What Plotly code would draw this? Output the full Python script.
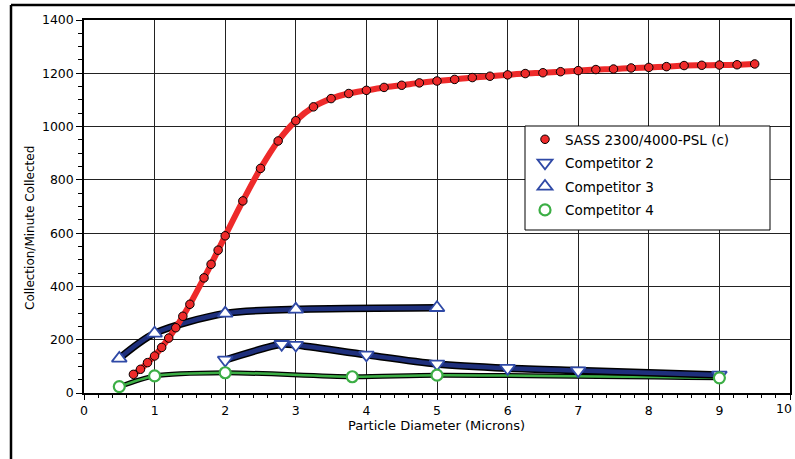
import plotly.graph_objects as go

# ---- data ----
sass_x = [0.7, 0.8, 0.9, 1.0, 1.1, 1.2, 1.3, 1.4, 1.5, 1.7, 1.8, 1.9, 2.0,
          2.25, 2.5, 2.75, 3.0, 3.25, 3.5, 3.75, 4.0, 4.25, 4.5, 4.75, 5.0,
          5.25, 5.5, 5.75, 6.0, 6.25, 6.5, 6.75, 7.0, 7.25, 7.5, 7.75, 8.0,
          8.25, 8.5, 8.75, 9.0, 9.25, 9.5]
sass_y = [70, 89, 114, 139, 171, 206, 245, 288, 333, 432, 483, 536, 590,
          721, 843, 946, 1022, 1074, 1105, 1124, 1136, 1147, 1155, 1164, 1171,
          1177, 1184, 1189, 1194, 1199, 1202, 1206, 1210, 1214, 1216, 1220, 1222,
          1225, 1229, 1230, 1231, 1232, 1235]

comp2_x = [2.0, 2.8, 3.0, 4.0, 5.0, 6.0, 7.0, 9.0]
comp2_y = [124, 183, 180, 143, 109, 93, 84, 68]

comp3_x = [0.5, 1.0, 2.0, 3.0, 5.0]
comp3_y = [130, 224, 299, 314, 320]

comp4_x = [0.5, 1.0, 2.0, 3.8, 5.0, 9.0]
comp4_y = [24, 64, 76, 61, 67, 57]

x_ticks = [0, 1, 2, 3, 4, 5, 6, 7, 8, 9]
x_last_tick = 10

names = ["SASS 2300/4000-PSL (c)", "Competitor 2", "Competitor 3", "Competitor 4"]
x_title = "Particle Diameter (Microns)"
y_title = "Collection/Minute Collected"

RED = "#ee2a2a"
NAVY = "#1e2f7c"
BLUE = "#2f49a6"
GREEN = "#3cae45"
FONT = "DejaVu Sans, Liberation Sans, Arial, sans-serif"

fig = go.Figure()

def outlined_line(x, y, color, w_in, w_out):
    fig.add_trace(go.Scatter(x=x, y=y, mode="lines", showlegend=False, hoverinfo="skip",
                             line=dict(color="black", width=w_out, shape="spline", smoothing=0.8)))
    fig.add_trace(go.Scatter(x=x, y=y, mode="lines", showlegend=False, hoverinfo="skip",
                             line=dict(color=color, width=w_in, shape="spline", smoothing=0.8)))

outlined_line(comp4_x, comp4_y, GREEN, 2.5, 5)
outlined_line(comp2_x, comp2_y, NAVY, 4.5, 7.5)
outlined_line(comp3_x, comp3_y, NAVY, 4.5, 7.5)

fig.add_trace(go.Scatter(x=sass_x, y=sass_y, mode="lines", showlegend=False, hoverinfo="skip",
                         line=dict(color=RED, width=6, shape="spline", smoothing=0.8)))

# markers (legend entries)
fig.add_trace(go.Scatter(x=sass_x, y=sass_y, mode="markers", name=names[0], legendgroup="a",
                         marker=dict(symbol="circle", size=8.5, color=RED,
                                     line=dict(color="black", width=1))))
fig.add_trace(go.Scatter(x=comp2_x, y=comp2_y, mode="markers", name=names[1], legendgroup="b",
                         marker=dict(symbol="triangle-down", size=13, color="white",
                                     line=dict(color=BLUE, width=1.8))))
fig.add_trace(go.Scatter(x=comp3_x, y=comp3_y, mode="markers", name=names[2], legendgroup="c",
                         marker=dict(symbol="triangle-up", size=13, color="white",
                                     line=dict(color=BLUE, width=1.8))))
fig.add_trace(go.Scatter(x=comp4_x, y=comp4_y, mode="markers", name=names[3], legendgroup="d",
                         marker=dict(symbol="circle", size=11, color="white",
                                     line=dict(color=GREEN, width=2.2))))

W, H = 795, 459
L, R, T, B = 84, 5, 20, 66
pw, ph = W - L - R, H - T - B

def px_x(p):
    return (p - L) / pw

def px_y(p):
    return (H - B - p) / ph

fig.update_layout(
    width=W, height=H,
    margin=dict(l=L, r=R, t=T, b=B, autoexpand=False),
    paper_bgcolor="white", plot_bgcolor="white",
    font=dict(family=FONT, color="black", size=12.5),
    showlegend=True,
    legend=dict(x=px_x(525), y=px_y(124), xanchor="left", yanchor="top",
                bgcolor="rgba(0,0,0,0)", borderwidth=0,
                font=dict(size=13.5, family=FONT), tracegroupgap=3, traceorder="grouped"),
    xaxis=dict(range=[0, 10], tickmode="array", tickvals=x_ticks + [x_last_tick],
               ticktext=[str(v) for v in x_ticks] + [""],
               showgrid=True, gridcolor="#222", gridwidth=1,
               showline=True, linecolor="black", linewidth=1.5, mirror=True,
               ticks="outside", ticklen=5, tickwidth=1.2, tickcolor="black",
               minor=dict(dtick=0.2, tick0=0, ticks="outside", ticklen=3, tickcolor="black", showgrid=False),
               zeroline=False, tickfont=dict(size=12.5, family=FONT), automargin=False),
    yaxis=dict(range=[0, 1400], dtick=200, tick0=0, showgrid=True, gridcolor="#222", gridwidth=1,
               showline=True, linecolor="black", linewidth=1.5, mirror=True,
               ticks="outside", ticklen=6, tickwidth=1.2, tickcolor="black",
               minor=dict(dtick=50, ticks="outside", ticklen=4, tickcolor="black", showgrid=False),
               zeroline=False, tickfont=dict(size=12.5, family=FONT), automargin=False),
    shapes=[
        dict(type="rect", xref="paper", yref="paper", x0=px_x(525), x1=px_x(770),
             y0=px_y(230), y1=px_y(126), fillcolor="white", line=dict(color="black", width=1),
             layer="above"),
        dict(type="line", xref="paper", yref="paper", x0=px_x(11), x1=px_x(11),
             y0=px_y(470), y1=px_y(5), line=dict(color="black", width=2.5)),
        dict(type="line", xref="paper", yref="paper", x0=px_x(11), x1=px_x(800),
             y0=px_y(5), y1=px_y(5), line=dict(color="black", width=2.5)),
    ],
    annotations=[
        dict(text=str(x_last_tick), xref="x", yref="paper", x=x_last_tick, y=px_y(408),
             xshift=4, showarrow=False, font=dict(size=12.5, family=FONT),
             xanchor="right", yanchor="middle"),
        dict(text=x_title, xref="paper", yref="paper", x=px_x(436), y=px_y(425.5),
             showarrow=False, font=dict(size=13, family=FONT), xanchor="center", yanchor="middle"),
        dict(text=y_title, xref="paper", yref="paper", x=px_x(30), y=px_y(228),
             showarrow=False, font=dict(size=12, family=FONT), textangle=-90,
             xanchor="center", yanchor="middle"),
    ],
)

fig.write_html("out.html", config={"displayModeBar": False},
               post_script="document.body.style.margin='0';document.body.style.overflow='hidden';")
